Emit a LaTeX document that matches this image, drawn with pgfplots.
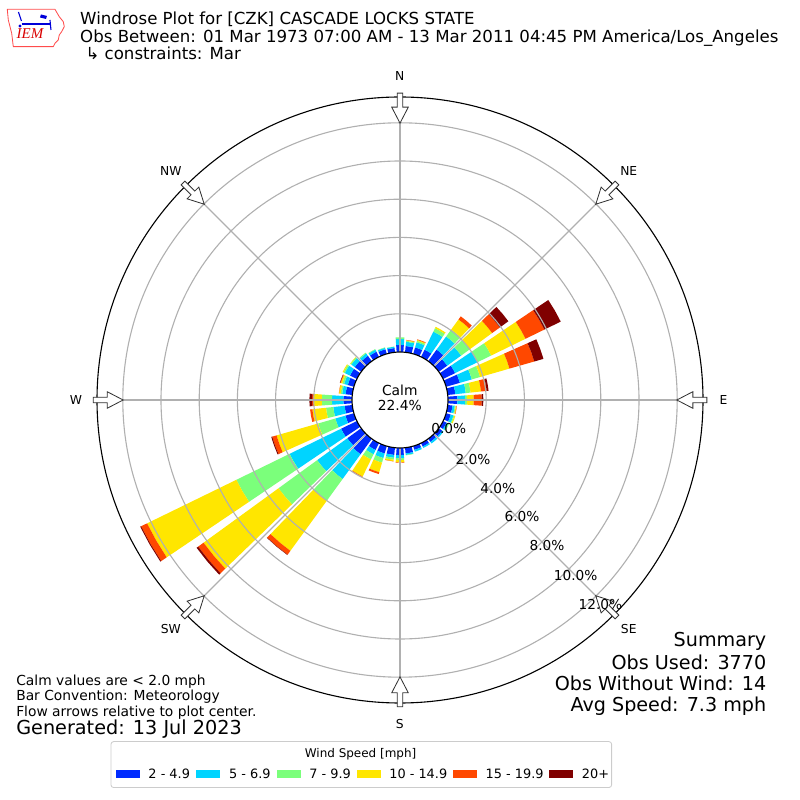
\documentclass[border=0pt]{standalone}
\usepackage{pgfplots}
\pgfplotsset{compat=1.18}
\usepackage{pgfplotstable}
\usepackage{fontspec}
\setmainfont{DejaVu Sans}
\newfontfamily\logofont{Liberation Serif}
\definecolor{wc1}{rgb}{0,0.167,1}
\definecolor{wc2}{rgb}{0,0.833,1}
\definecolor{wc3}{rgb}{0.484,1,0.484}
\definecolor{wc4}{rgb}{1,0.901,0}
\definecolor{wc5}{rgb}{1,0.284,0}
\definecolor{wc6}{rgb}{0.5,0,0}
\definecolor{gridc}{HTML}{B0B0B0}
\newcommand{\fs}[1]{\fontsize{#1}{#1}\selectfont}

% percent of observations per direction and speed class
\pgfplotstableread{
dir b1 b2 b3 b4 b5 b6
0 0.37 0.31 0.09 0 0 0
10 0.33 0.22 0.05 0.03 0.02 0
20 0.35 0.28 0.08 0.05 0.03 0
30 0.42 1.05 0.20 0.08 0 0
40 0.75 0.85 0.45 0.65 0.20 0
50 0.55 0.90 0.55 1.45 0.50 0.55
60 0.70 1.30 0.80 2.00 1.10 0.95
70 0.75 0.65 0.45 1.60 1.35 0.50
80 0.40 0.55 0.25 0.55 0.30 0.10
90 0.50 0.40 0.10 0.35 0.42 0.08
100 0.25 0.12 0.05 0.04 0.02 0
110 0.25 0.15 0.05 0.05 0 0
120 0.20 0.10 0.05 0 0 0
130 0.22 0.08 0 0 0 0
140 0.20 0.10 0 0 0 0
150 0.20 0.08 0 0 0 0
160 0.20 0.10 0 0 0 0
170 0.30 0.08 0.02 0 0 0
180 0.37 0.17 0.09 0.12 0.02 0
190 0.38 0.15 0.10 0.08 0.01 0
200 0.40 0.25 0.25 0.52 0.10 0
210 0.40 0.25 0.30 1.00 0.03 0
220 1.00 1.60 1.40 3.25 0.25 0.02
230 0.90 1.95 2.50 4.85 0.35 0.10
240 0.92 3.00 3.10 5.20 0.35 0.05
250 0.46 0.55 0.93 2.27 0.24 0.05
260 0.40 0.60 0.38 0.72 0.12 0
270 0.45 0.60 0.53 0.43 0.08 0.14
280 0.35 0.18 0.08 0.09 0.01 0
290 0.33 0.20 0.10 0.08 0.03 0.02
300 0.40 0.30 0.08 0.05 0 0
310 0.42 0.22 0.06 0.02 0 0
320 0.35 0.15 0.05 0 0 0
330 0.30 0.12 0.03 0 0 0
340 0.25 0.08 0.02 0 0 0
350 0.22 0.07 0.01 0 0 0
}\windtbl

% radius in px: 48 + 19.1 * percent
\newcommand\windseg[2]{%
  \pgfplotstablegetelem{#1}{b#2}\of\windtbl
  \ifdim\pgfplotsretval pt>0pt
    \pgfmathsetmacro\lo{48+19.1*\cum}%
    \pgfmathsetmacro\cum{\cum+\pgfplotsretval}%
    \pgfmathsetmacro\hi{48+19.1*\cum}%
    \edef\doplot{\noexpand\addplot[draw=none, fill=wc#2, data cs=polar, forget plot] coordinates {(\ta,\lo) (\tm,\lo) (\tb,\lo) (\tb,\hi) (\tm,\hi) (\ta,\hi)};}%
    \doplot
  \fi}
\newcommand\windbar[1]{%
  \pgfplotstablegetelem{#1}{dir}\of\windtbl
  \pgfmathsetmacro\ta{90-\pgfplotsretval-4}%
  \pgfmathsetmacro\tm{90-\pgfplotsretval}%
  \pgfmathsetmacro\tb{90-\pgfplotsretval+4}%
  \def\cum{0}%
  \windseg{#1}{1}\windseg{#1}{2}\windseg{#1}{3}%
  \windseg{#1}{4}\windseg{#1}{5}\windseg{#1}{6}}

\begin{document}
\begin{tikzpicture}
\path[use as bounding box] (0,0) rectangle (8in,8in);
\begin{axis}[at={(0,0)}, anchor=south west, width=8in, height=8in,
  scale only axis, xmin=-400, xmax=400, ymin=-400, ymax=400,
  hide axis, clip=false]
\pgfplotsforeachungrouped \i in {0,...,35}{\windbar{\i}}
\end{axis}

% grid
\foreach \r in {0.862,1.244,1.626,2.008,2.390,2.772}
  \draw[gridc, line width=0.8pt] (4in,4in) circle[radius=\r in];
\foreach \a in {0,45,...,315}
  \draw[gridc, line width=0.8pt] (4in,4in) -- ++(90-\a:3.03in);
\draw[black, line width=0.8pt] (4in,4in) circle[radius=3.03in];
\draw[black, fill=white, line width=0.8pt] (4in,4in) circle[radius=0.48in];
% flow arrows
\foreach \a in {0,45,...,315}
  \draw[draw=black!80, fill=white, line width=0.6pt, shift={(4in,4in)}, rotate=-\a, x=0.01in, y=0.01in]
   (-2.7,307) -- (2.7,307) -- (2.7,293) -- (8.3,293) -- (0,277) -- (-8.3,293) -- (-2.7,293) -- cycle;

\begin{scope}[x=0.01in, y=-0.01in, shift={(0,8in)}]
% direction labels
\begin{scope}[every node/.style={inner sep=0pt, font=\fs{8.9}}]
\node at (400,76) {N};
\node at (629.1,170.9) {NE};
\node at (724,400) {E};
\node at (629.1,629.1) {SE};
\node at (400,724) {S};
\node at (170.9,629.1) {SW};
\node at (76,400) {W};
\node at (170.9,170.9) {NW};
\end{scope}
% radial labels
\begin{scope}[every node/.style={inner sep=0pt, font=\fs{9.9}}]
\node at (449,429) {0.0\%};
\node at (473.3,459.3) {2.0\%};
\node at (498,488.3) {4.0\%};
\node at (522.3,517.3) {6.0\%};
\node at (547.3,546.3) {8.0\%};
\node at (576,575.7) {10.0\%};
\node at (600.7,605) {12.0\%};
\end{scope}
% calm
\node[inner sep=0pt, anchor=base, font=\fs{10}] at (400,396) {Calm};
\node[inner sep=0pt, anchor=base, font=\fs{10}] at (400,411) {22.4\%};
% title
\node[inner sep=0pt, anchor=base west, font=\fs{12}] at (80,25) {Windrose Plot for [CZK] CASCADE LOCKS STATE};
\node[inner sep=0pt, anchor=base west, font=\fs{12}] at (80,42.5) {Obs Between: 01 Mar 1973 07:00 AM - 13 Mar 2011 04:45 PM America/Los\_Angeles};
\node[inner sep=0pt, anchor=base west, font=\fs{12}] at (80,60) {\ ↳ constraints: Mar};
% summary
\begin{scope}[every node/.style={inner sep=0pt, anchor=base east, font=\fs{13.85}}]
\node at (767,647) {Summary};
\node at (767,670) {Obs Used: 3770};
\node at (767,691) {Obs Without Wind: 14};
\node at (767,712) {Avg Speed: 7.3 mph};
\end{scope}
% notes
\begin{scope}[every node/.style={inner sep=0pt, anchor=base west, font=\fs{10}}]
\node at (16,685.7) {Calm values are < 2.0 mph};
\node at (16,701) {Bar Convention: Meteorology};
\node at (16,716.7) {Flow arrows relative to plot center.};
\end{scope}
\node[inner sep=0pt, anchor=base west, font=\fs{13.9}] at (16,735) {Generated: 13 Jul 2023};
% legend
\draw[draw=black!20, fill=white, rounded corners=2pt, line width=0.6pt] (111,742) rectangle (612,788);
\node[inner sep=0pt, anchor=base, font=\fs{8.65}] at (360.8,758.3) {Wind Speed [mph]};
\fill[wc1] (115.7,770.3) rectangle (140,778.7);
\fill[wc2] (195.7,770.3) rectangle (220,778.7);
\fill[wc3] (276.7,770.3) rectangle (301,778.7);
\fill[wc4] (357,770.3) rectangle (381,778.7);
\fill[wc5] (453.7,770.3) rectangle (477.3,778.7);
\fill[wc6] (549.7,770.3) rectangle (573.7,778.7);
\begin{scope}[every node/.style={inner sep=0pt, anchor=base west, font=\fs{9.3}}]
\node at (148.3,778.7) {2 - 4.9};
\node at (229,778.7) {5 - 6.9};
\node at (309.3,778.7) {7 - 9.9};
\node at (389.3,778.7) {10 - 14.9};
\node at (485.7,778.7) {15 - 19.9};
\node at (582,778.7) {20+};
\end{scope}
% logo
\draw[red!70, line width=0.6pt, line join=round] (7.3,9.3) -- (55,9.3) -- (57.3,13.3) -- (59.3,16.7) -- (63.3,21.7) -- (64.3,26.7) -- (61.7,31.7) -- (59.3,35) -- (58.3,40) -- (55,43.3) -- (53.3,46.7) -- (13.3,46.7) -- (11.7,33.3) -- (8.3,20) -- cycle;
\draw[blue!85!black, line width=1.1pt] (21.7,24) -- (50,24);
\draw[blue!85!black, line width=0.8pt] (18.5,12) -- (21.5,21);
\fill[blue!85!black] (41,14.5) -- (47,16) -- (46,19) -- (40,17.5) -- cycle;
\draw[blue!85!black, line width=0.8pt] (50,20) -- (51,30);
\fill[blue!85!black] (20,26) circle[radius=1.6];
\node[inner sep=0pt, anchor=base, font=\logofont\itshape\fs{10.8}, text=red!85!black] at (30,39) {IEM};
\end{scope}
\end{tikzpicture}
\end{document}
